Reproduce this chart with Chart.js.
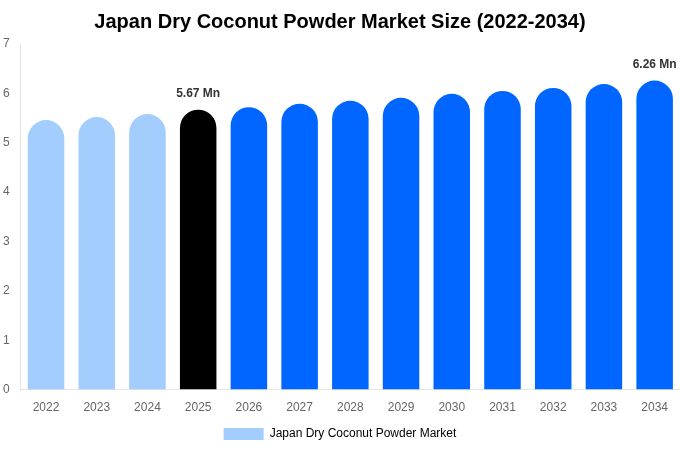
<!DOCTYPE html>
<html><head><meta charset="utf-8">
<script src="https://cdn.jsdelivr.net/npm/chart.js@4"></script>
<style>body{margin:0;background:#fff}#w{width:680px;height:450px}</style></head>
<body><div id="w"><canvas id="c"></canvas></div>
<script>
const categories=['2022','2023','2024','2025','2026','2027','2028','2029','2030','2031','2032','2033','2034'];
const values=[5.46,5.52,5.58,5.67,5.72,5.79,5.85,5.91,5.99,6.05,6.11,6.19,6.26];
const labelled={3:'5.67 Mn',12:'6.26 Mn'};
const colors=categories.map((c,i)=>i<3?'#a3cdfd':i===3?'#000000':'#0066ff');
const labelPlugin={id:'lbl',afterDatasetsDraw(ch){const ctx=ch.ctx;const m=ch.getDatasetMeta(0);ctx.save();ctx.font='bold 12px Arial, "Liberation Sans"';ctx.fillStyle='#333';ctx.textAlign='center';ctx.textBaseline='bottom';
for(const k in labelled){const e=m.data[k];ctx.fillText(labelled[k],e.x,e.y-10);}ctx.restore();}};
new Chart(document.getElementById('c'),{type:'bar',
data:{labels:categories,datasets:[{label:'Japan Dry Coconut Powder Market',data:values,backgroundColor:colors,borderRadius:{topLeft:20,topRight:20},borderSkipped:'bottom',categoryPercentage:0.8,barPercentage:0.9}]},
options:{responsive:true,maintainAspectRatio:false,animation:false,
layout:{padding:{left:0,right:0,top:0,bottom:0}},
plugins:{title:{display:true,text:'Japan Dry Coconut Powder Market Size (2022-2034)',font:{size:20,weight:'bold',family:'Arial, "Liberation Sans"'},color:'#000',padding:{top:10,bottom:10}},
legend:{position:'bottom',labels:{boxWidth:40,boxHeight:12,color:'#666',font:{size:12,family:'Arial, "Liberation Sans"'},generateLabels:()=>[{text:'Japan Dry Coconut Powder Market',fillStyle:'#a3cdfd',strokeStyle:'#a3cdfd',lineWidth:0}]}},
tooltip:{enabled:false}},
scales:{x:{grid:{display:false},ticks:{color:'#666',font:{size:12}}},
y:{min:0,max:7,ticks:{stepSize:1,color:'#666',font:{size:12}},grid:{display:false}}}},
plugins:[labelPlugin]});
</script></body></html>
